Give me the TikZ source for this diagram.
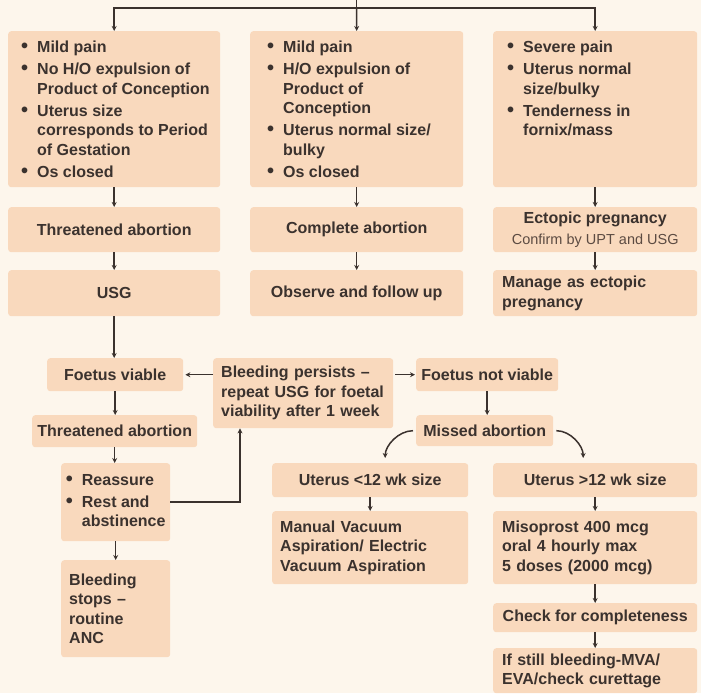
\documentclass[tikz,border=0pt]{standalone}
\usepackage{fontspec}
\setmainfont{Liberation Sans}
\usetikzlibrary{arrows.meta}
\definecolor{bgcol}{HTML}{FDF6EC}
\definecolor{boxfill}{HTML}{F9D9BD}
\definecolor{ink}{HTML}{3B322E}
\definecolor{inklight}{HTML}{5C4B42}
\newcommand{\bul}{\makebox[16pt][l]{\fontsize{20}{0}\selectfont\textbullet}}

\begin{document}
\begin{tikzpicture}[x=1pt,y=-1pt,
	box/.style={fill=boxfill,rounded corners=3pt,text=ink,anchor=north west,inner sep=0pt,align=center,font=\fontsize{16}{19.5}\selectfont\bfseries},
	lbox/.style={box,align=left,inner xsep=9pt},
	link/.style={draw=ink,line width=1.5pt},
	arr/.style={link,-{Stealth[length=5pt,width=5pt]}}]
	\useasboundingbox (0,0) rectangle (701,693);
	\fill[bgcol] (0,0) rectangle (701,693);

	% first signs
	\node[box,minimum width=212pt,minimum height=156pt,inner xsep=13pt,inner ysep=8pt] (sympA) at (8,31)
	{\begin{minipage}[t][140pt][t]{186pt}\begin{tabular}{@{}l@{}l@{}}
	\bul & Mild pain\\[2.5pt]
	\bul & No H/O expulsion of\\
	     & Product of Conception\\[2.5pt]
	\bul & Uterus size\\
	     & corresponds to Period\\
	     & of Gestation\\[2.5pt]
	\bul & Os closed
	\end{tabular}\end{minipage}};
	\node[box,minimum width=213pt,minimum height=156pt,inner xsep=17pt,inner ysep=8pt] (sympB) at (250,31)
	{\begin{minipage}[t][140pt][t]{179pt}\begin{tabular}{@{}l@{}l@{}}
	\bul & Mild pain\\[2.5pt]
	\bul & H/O expulsion of\\
	     & Product of\\
	     & Conception\\[2.5pt]
	\bul & Uterus normal size/\\
	     & bulky\\[2.5pt]
	\bul & Os closed
	\end{tabular}\end{minipage}};
	\node[box,minimum width=204pt,minimum height=156pt,inner xsep=14pt,inner ysep=8pt] (sympC) at (493,31)
	{\begin{minipage}[t][140pt][t]{176pt}\begin{tabular}{@{}l@{}l@{}}
	\bul & Severe pain\\[2.5pt]
	\bul & Uterus normal\\
	     & size/bulky\\[2.5pt]
	\bul & Tenderness in\\
	     & fornix/mass
	\end{tabular}\end{minipage}};

	% diagnosis and first step
	\node[box,minimum width=212pt,minimum height=45pt] (thrA) at (8,207) {Threatened abortion};
	\node[box,minimum width=213pt,minimum height=45pt] (compl) at (250,207) {Complete abortion};
	\node[box,minimum width=204pt,minimum height=45pt] (ecto) at (493,207)
	{Ectopic pregnancy\\[1pt]{\mdseries\fontsize{14.5}{17}\selectfont\color{inklight}Confirm by UPT and USG}};
	\node[box,minimum width=212pt,minimum height=46pt] (usg) at (8,270) {USG};
	\node[box,minimum width=213pt,minimum height=46pt] (obs) at (250,270) {Observe and follow up};
	\node[lbox,text width=186pt,minimum height=46pt] (mng) at (493,270) {Manage as ectopic\\pregnancy};

	% after USG
	\node[box,minimum width=136pt,minimum height=33pt] (viab) at (47,358) {Foetus viable};
	\node[lbox,text width=164pt,inner xsep=8pt,minimum height=70pt] (bleed) at (213,358)
	{Bleeding persists --\\repeat USG for foetal\\viability after 1 week};
	\node[box,minimum width=142pt,minimum height=33pt] (nviab) at (416,358) {Foetus not viable};
	\node[box,minimum width=165pt,minimum height=32pt] (thrB) at (32,415) {Threatened abortion};
	\node[box,minimum width=137pt,minimum height=31pt] (missed) at (416,415) {Missed abortion};
	\node[box,minimum width=109pt,minimum height=78pt,inner xsep=3pt,align=left] (reas) at (61,463)
	{\begin{tabular}{@{}l@{}l@{}}
	\bul & Reassure\\[2.5pt]
	\bul & Rest and\\
	     & abstinence
	\end{tabular}};
	\node[lbox,text width=93pt,inner xsep=8pt,minimum height=97pt] (stops) at (61,560) {Bleeding\\stops --\\routine\\ANC};

	% missed abortion
	\node[box,minimum width=196pt,minimum height=34pt] (small) at (272,463) {Uterus \textless 12 wk size};
	\node[box,minimum width=204pt,minimum height=34pt] (large) at (493,463) {Uterus \textgreater 12 wk size};
	\node[lbox,text width=180pt,inner xsep=8pt,minimum height=73pt] (mva) at (272,511)
	{Manual Vacuum\\Aspiration/ Electric\\Vacuum Aspiration};
	\node[lbox,text width=186pt,minimum height=73pt] (miso) at (493,511)
	{Misoprost 400 mcg\\oral 4 hourly max\\5 doses (2000 mcg)};
	\node[box,minimum width=204pt,minimum height=29pt] (check) at (493,603) {Check for completeness};
	\node[lbox,text width=186pt,minimum height=45pt] (still) at (493,648) {If still bleeding-MVA/\\EVA/check curettage};

	% connectors
	\coordinate (top) at (356.5,0);
	\coordinate (split) at (356.5,8);
	\draw[link] (top) -- (split);
	\draw[arr] (split) -| (sympA.north);
	\draw[arr] (split) -- (sympB.north);
	\draw[arr] (split) -| (sympC.north);
	\draw[arr] (sympA.south) -- (thrA.north);
	\draw[arr] (sympB.south) -- (compl.north);
	\draw[arr] (sympC.south) -- (ecto.north);
	\draw[arr] (thrA.south) -- (usg.north);
	\draw[arr] (compl.south) -- (obs.north);
	\draw[arr] (ecto.south) -- (mng.north);
	\draw[arr] (usg.south) -- (usg.south |- viab.north);
	\draw[arr,shorten >=2pt] (viab.east -| bleed.west) -- (viab.east);
	\draw[arr,shorten <=2pt,shorten >=1pt] (nviab.west -| bleed.east) -- (nviab.west);
	\draw[arr] (viab.south) -- (viab.south |- thrB.north);
	\draw[arr] (nviab.south) -- (nviab.south |- missed.north);
	\draw[arr] (thrB.south) -- (thrB.south |- reas.north);
	\draw[arr] (reas.south) -- (stops.north);
	\draw[arr] (reas.east) -| ([xshift=27pt]bleed.south west);
	\draw[arr,shorten <=3pt,shorten >=5pt] (missed.west) to[out=180,in=90] ([xshift=15pt]small.north);
	\draw[arr,shorten <=3pt,shorten >=5pt] (missed.east) to[out=0,in=90] ([xshift=-12pt]large.north);
	\draw[arr] (small.south) -- (mva.north);
	\draw[arr] (large.south) -- (miso.north);
	\draw[arr] (miso.south) -- (check.north);
	\draw[arr] (check.south) -- (still.north);
\end{tikzpicture}
\end{document}
